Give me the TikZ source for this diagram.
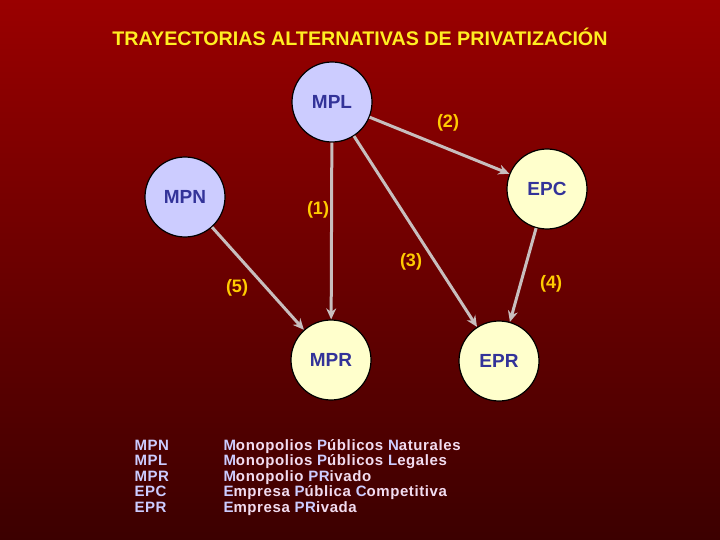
\documentclass[tikz,border=0pt]{standalone}
\usepackage{fontspec}
\setmainfont{Liberation Sans}
\newfontfamily\leyendafont[LetterSpace=4]{Liberation Sans}
\usetikzlibrary{arrows.meta,positioning}
\definecolor{fondoarriba}{HTML}{9A0000}
\definecolor{fondoabajo}{HTML}{3C0000}
\definecolor{lila}{HTML}{CCCCFF}
\definecolor{crema}{HTML}{FFFFCC}
\definecolor{tinta}{HTML}{333399}
\definecolor{oro}{HTML}{FFCC00}
\definecolor{titulo}{HTML}{FFEE22}
\definecolor{gris}{HTML}{C8BEBE}
\definecolor{rosado}{HTML}{F2DCF0}
\newcommand{\inicial}[1]{\textcolor{lila}{#1}}
\tikzset{
    estado/.style={circle,draw=black,line width=1.2pt,minimum size=80pt,inner sep=0pt,text=tinta,font=\bfseries\fontsize{19}{22}\selectfont},
    publico node/.style={estado,fill=lila},
    privado node/.style={estado,fill=crema},
    etiqueta/.style={text=oro,font=\bfseries\fontsize{18}{21}\selectfont},
    sigla/.style={anchor=base west,inner sep=0pt,text=lila,font=\leyendafont\bfseries\fontsize{15}{17}\selectfont},
    significado/.style={anchor=base west,inner sep=0pt,text=rosado,font=\leyendafont\bfseries\fontsize{15}{17}\selectfont},
}

\begin{document}
\begin{tikzpicture}[x=1pt,y=-1pt,->,>={Stealth[length=11pt,width=10pt]},line width=3pt]
            \shade[top color=fondoarriba,bottom color=fondoabajo,draw=none] (0,0) rectangle (720,540);
            \useasboundingbox (0,0) rectangle (720,540);

            \node[text=titulo,font=\bfseries\fontsize{19.7}{22}\selectfont] (titulo) at (360,37) {TRAYECTORIAS ALTERNATIVAS DE PRIVATIZACIÓN};

            \node[publico node] (mpl) at (332,102) {MPL};
            \node[publico node] (mpn) at (185,197) {MPN};
            \node[privado node] (epc) at (547,189) {EPC};
            \node[privado node] (mpr) at (331,360) {MPR};
            \node[privado node] (epr) at (499,361) {EPR};

            \path[draw=gris]
                (mpl) edge (mpr)
                (mpl) edge (epc)
                (mpl) edge (epr)
                (epc) edge (epr)
                (mpn) edge (mpr)
                ;

            \node[etiqueta] (e1) at (318,210) {(1)};
            \node[etiqueta] (e2) at (448,123) {(2)};
            \node[etiqueta] (e3) at (411,262) {(3)};
            \node[etiqueta] (e4) at (551,284) {(4)};
            \node[etiqueta] (e5) at (237,288) {(5)};

            % leyenda
            \node[sigla] (smpn) at (133,450) {MPN};
            \node[sigla] (smpl) at (133,465.5) {MPL};
            \node[sigla] (smpr) at (133,481) {MPR};
            \node[sigla] (sepc) at (133,496.5) {EPC};
            \node[sigla] (sepr) at (133,512) {EPR};
            \node[significado] (dmpn) at (222,450) {\inicial{M}onopolios \inicial{P}úblicos \inicial{N}aturales};
            \node[significado] (dmpl) at (222,465.5) {\inicial{M}onopolios \inicial{P}úblicos \inicial{L}egales};
            \node[significado] (dmpr) at (222,481) {\inicial{M}onopolio \inicial{PR}ivado};
            \node[significado] (depc) at (222,496.5) {\inicial{E}mpresa \inicial{P}ública \inicial{C}ompetitiva};
            \node[significado] (depr) at (222,512) {\inicial{E}mpresa \inicial{PR}ivada};
        \end{tikzpicture}
\end{document}
